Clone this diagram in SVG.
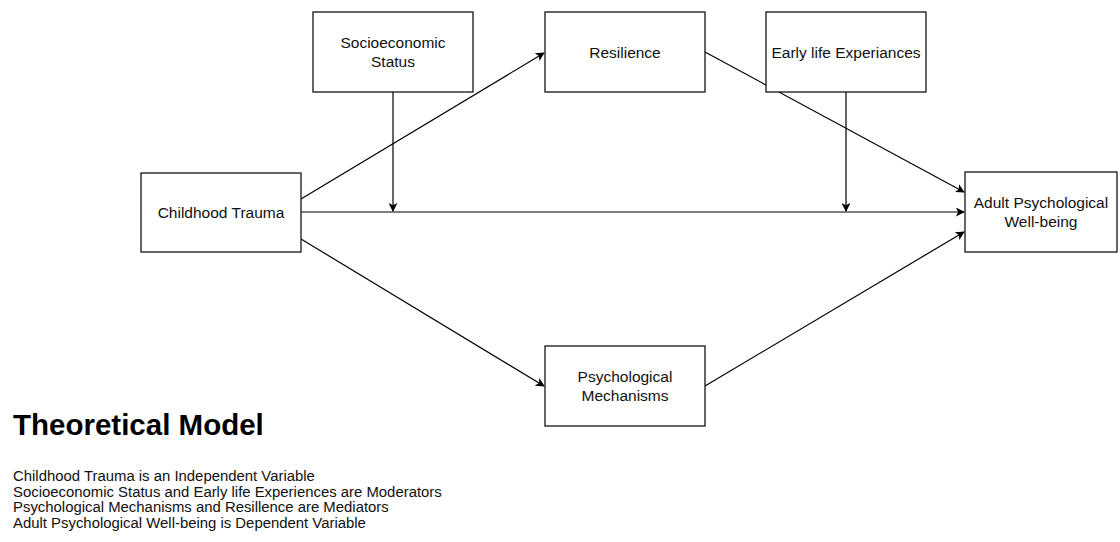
<svg xmlns="http://www.w3.org/2000/svg" width="1120" height="542" viewBox="0 0 1120 542">
<style>
.box{fill:#fff;stroke:#000;stroke-width:1.2}
.lbl{font-family:"Liberation Sans",Arial,sans-serif;font-size:15.5px;fill:#111;text-anchor:middle}
.edge{fill:none;stroke:#000;stroke-width:1.2}
.t{font-family:"Liberation Sans",Arial,sans-serif;font-size:14.9px;fill:#111}
</style>
<defs>
<marker id="ah" viewBox="0 0 10 10" refX="9" refY="5" markerWidth="9" markerHeight="9" markerUnits="userSpaceOnUse" orient="auto">
<path d="M0,0 L10,5 L0,10 L2.5,5 Z" fill="#000"/>
</marker>
</defs>
<rect width="1120" height="542" fill="#fff"/>
<g id="connectors">
<path class="edge" d="M301,212 L964,212" marker-end="url(#ah)"/>
<path class="edge" d="M393,92 L393,211" marker-end="url(#ah)"/>
<path class="edge" d="M846,92 L846,211" marker-end="url(#ah)"/>
<path class="edge" d="M301,199 L544,53" marker-end="url(#ah)"/>
<path class="edge" d="M301,239 L544,386" marker-end="url(#ah)"/>
<path class="edge" d="M705,52 L964,192" marker-end="url(#ah)"/>
<path class="edge" d="M705,386 L964,232" marker-end="url(#ah)"/>
</g>
<g id="socio"><rect class="box" x="313" y="12" width="160" height="80"/><text class="lbl" x="393" y="48">Socioeconomic</text><text class="lbl" x="393" y="67">Status</text></g>
<g id="resilience"><rect class="box" x="545" y="12" width="160" height="80"/><text class="lbl" x="625" y="58">Resilience</text></g>
<g id="early"><rect class="box" x="766" y="12" width="160" height="80"/><text class="lbl" x="846" y="58">Early life Experiances</text></g>
<g id="childhood"><rect class="box" x="141" y="173" width="160" height="79"/><text class="lbl" x="221" y="218">Childhood Trauma</text></g>
<g id="adult"><rect class="box" x="965" y="172" width="152" height="80"/><text class="lbl" x="1041" y="208">Adult Psychological</text><text class="lbl" x="1041" y="227">Well-being</text></g>
<g id="psych"><rect class="box" x="545" y="346" width="160" height="80"/><text class="lbl" x="625" y="382">Psychological</text><text class="lbl" x="625" y="401">Mechanisms</text></g>
<g id="legend">
<text x="13" y="435" font-family="'Liberation Sans',Arial,sans-serif" font-size="29.5" font-weight="bold" fill="#000">Theoretical Model</text>
<text class="t" x="13" y="481">Childhood Trauma is an Independent Variable</text>
<text class="t" x="13" y="497">Socioeconomic Status and Early life Experiences are Moderators</text>
<text class="t" x="13" y="512">Psychological Mechanisms and Resillence are Mediators</text>
<text class="t" x="13" y="528">Adult Psychological Well-being is Dependent Variable</text>
</g>
</svg>
